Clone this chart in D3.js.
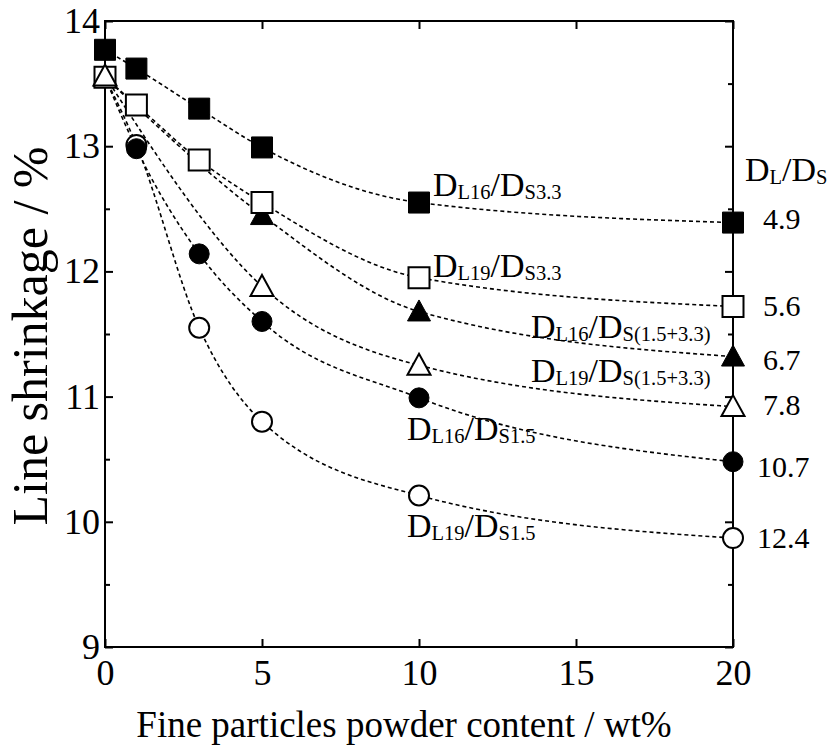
<!DOCTYPE html>
<html>
<head>
<meta charset="utf-8">
<script src="https://cdn.jsdelivr.net/npm/d3@7"></script>
<style>
  html, body { margin: 0; padding: 0; background: #fff; }
  svg { display: block; }
  text { font-family: "Liberation Serif", "Times New Roman", serif; fill: #000; }
</style>
</head>
<body>
<svg id="chart" width="829" height="749"></svg>
<script>
// Fine particle content (wt%) at which each mixture was measured
const contentFull = [0, 1, 3, 5, 10, 20];
const contentTri = [0, 5, 10, 20];

// Line shrinkage (%) for each coarse/fine particle combination
const shrinkL16S33 = [13.77, 13.62, 13.30, 12.99, 12.55, 12.39];
const shrinkL19S33 = [13.55, 13.33, 12.89, 12.55, 11.95, 11.72];
const shrinkL16S15_33 = [13.55, 12.45, 11.68, 11.32];
const shrinkL19S15_33 = [13.56, 11.88, 11.25, 10.92];
const shrinkL16S15 = [13.55, 12.98, 12.14, 11.60, 10.99, 10.48];
const shrinkL19S15 = [13.55, 13.01, 11.55, 10.80, 10.21, 9.87];

// Size ratio D_L/D_S of each mixture
const sizeRatios = ["4.9", "5.6", "6.7", "7.8", "10.7", "12.4"];

// Axis ticks
const xTicks = [0, 5, 10, 15, 20];
const yTicks = [9, 10, 11, 12, 13, 14];
const yMinorTicks = [9.5, 10.5, 11.5, 12.5, 13.5];

const serif = '"Liberation Serif", "Times New Roman", serif';
const svg = d3.select("#chart");
const plotL = 105, plotR = 733, plotT = 21, plotB = 647;

const x = d3.scaleLinear().domain([0, 20]).range([plotL, plotR]);
const y = d3.scaleLinear().domain([9, 14]).range([plotB, plotT]);
const fmt = d3.format("d");

// Frame and ticks (ticks point inwards)
const axes = svg.append("g");
axes.append("g").attr("transform", `translate(0,${plotB})`)
  .call(d3.axisBottom(x).tickValues(xTicks).tickFormat(fmt).tickSizeInner(-8).tickSizeOuter(0).tickPadding(12))
  .call(g => g.selectAll("text").style("font-size", "36px").style("font-family", serif));
axes.append("g").attr("transform", `translate(0,${plotT})`)
  .call(d3.axisTop(x).tickValues(xTicks).tickSizeInner(-8).tickSizeOuter(0).tickFormat(""));
axes.append("g").attr("transform", `translate(${plotL},0)`)
  .call(d3.axisLeft(y).tickValues(yTicks).tickFormat(fmt).tickSizeInner(-8).tickSizeOuter(0).tickPadding(5))
  .call(g => g.selectAll("text").style("font-size", "36px").style("font-family", serif));
axes.append("g").attr("transform", `translate(${plotL},0)`)
  .call(d3.axisLeft(y).tickValues(yMinorTicks).tickSizeInner(-5).tickSizeOuter(0).tickFormat(""));
axes.append("g").attr("transform", `translate(${plotR},0)`)
  .call(d3.axisRight(y).tickValues(yTicks).tickSizeInner(-8).tickSizeOuter(0).tickFormat(""));
axes.append("g").attr("transform", `translate(${plotR},0)`)
  .call(d3.axisRight(y).tickValues(yMinorTicks).tickSizeInner(-5).tickSizeOuter(0).tickFormat(""));
axes.selectAll(".domain").remove();
axes.selectAll(".tick line").attr("stroke", "#000").attr("stroke-width", 2);

svg.append("rect")
  .attr("x", plotL).attr("y", plotT)
  .attr("width", plotR - plotL).attr("height", plotB - plotT)
  .attr("fill", "none").attr("stroke", "#000").attr("stroke-width", 2);

// Axis titles
svg.append("text")
  .attr("x", (plotL + plotR) / 2 - 15).attr("y", 737)
  .attr("text-anchor", "middle").style("font-size", "37px")
  .text("Fine particles powder content / wt%");
svg.append("text")
  .attr("transform", `translate(47,${(plotT + plotB) / 2 + 2}) rotate(-90)`)
  .attr("text-anchor", "middle").style("font-size", "50px")
  .text("Line shrinkage / %");

// Series definitions: which x values, which marker
const series = [
  { xs: contentFull, ys: shrinkL19S15, shape: "circle", fill: "#fff" },
  { xs: contentFull, ys: shrinkL16S15, shape: "circle", fill: "#000" },
  { xs: contentTri, ys: shrinkL16S15_33, shape: "triangle", fill: "#000" },
  { xs: contentFull, ys: shrinkL16S33, shape: "square", fill: "#000" },
  { xs: contentFull, ys: shrinkL19S33, shape: "square", fill: "#fff" },
  { xs: contentTri, ys: shrinkL19S15_33, shape: "triangle", fill: "#fff" }
];

const line = d3.line()
  .x(d => x(d[0])).y(d => y(d[1]))
  .curve(d3.curveMonotoneX);

const curves = svg.append("g");
series.forEach(s => {
  const pts = s.xs.map((v, i) => [v, s.ys[i]]);
  curves.append("path")
    .attr("d", line(pts))
    .attr("fill", "none").attr("stroke", "#000")
    .attr("stroke-width", 1.6).attr("stroke-dasharray", "4,3");
});

const symbolPath = {
  circle: d3.symbol().type(d3.symbolCircle).size(Math.PI * 10 * 10)(),
  square: d3.symbol().type(d3.symbolSquare).size(21 * 21)(),
  triangle: "M0,-11.5L11.5,9.5L-11.5,9.5Z"
};

const markers = svg.append("g");
series.forEach(s => {
  markers.selectAll(null)
    .data(s.xs.map((v, i) => [v, s.ys[i]]))
    .join("path")
    .attr("transform", d => `translate(${x(d[0])},${y(d[1])})`)
    .attr("d", symbolPath[s.shape])
    .attr("fill", s.fill)
    .attr("stroke", "#000")
    .attr("stroke-width", s.fill === "#000" ? 1 : 2);
});

// Curve labels: D_L../D_S..
function ratioText(px, py, subL, subS) {
  const t = svg.append("text").attr("x", px).attr("y", py).style("font-size", "34px");
  t.append("tspan").text("D");
  t.append("tspan").style("font-size", "20.5px").attr("dy", 3).text(subL);
  t.append("tspan").attr("dy", -3).text("/D");
  t.append("tspan").style("font-size", "20.5px").attr("dy", 3).text(subS);
}
ratioText(433, 196, "L16", "S3.3");
ratioText(433, 277, "L19", "S3.3");
ratioText(531, 338, "L16", "S(1.5+3.3)");
ratioText(531, 382, "L19", "S(1.5+3.3)");
ratioText(407, 440, "L16", "S1.5");
ratioText(407, 537, "L19", "S1.5");

// Size-ratio column at the right edge
ratioText(745, 181, "L", "S");
const ratioBaselines = [229, 316, 370, 415, 477, 548];
svg.append("g").selectAll("text")
  .data(sizeRatios)
  .join("text")
  .attr("x", d => d.length > 3 ? 757 : 763)
  .attr("y", (d, i) => ratioBaselines[i])
  .style("font-size", "30px")
  .text(d => d);
</script>
</body>
</html>
